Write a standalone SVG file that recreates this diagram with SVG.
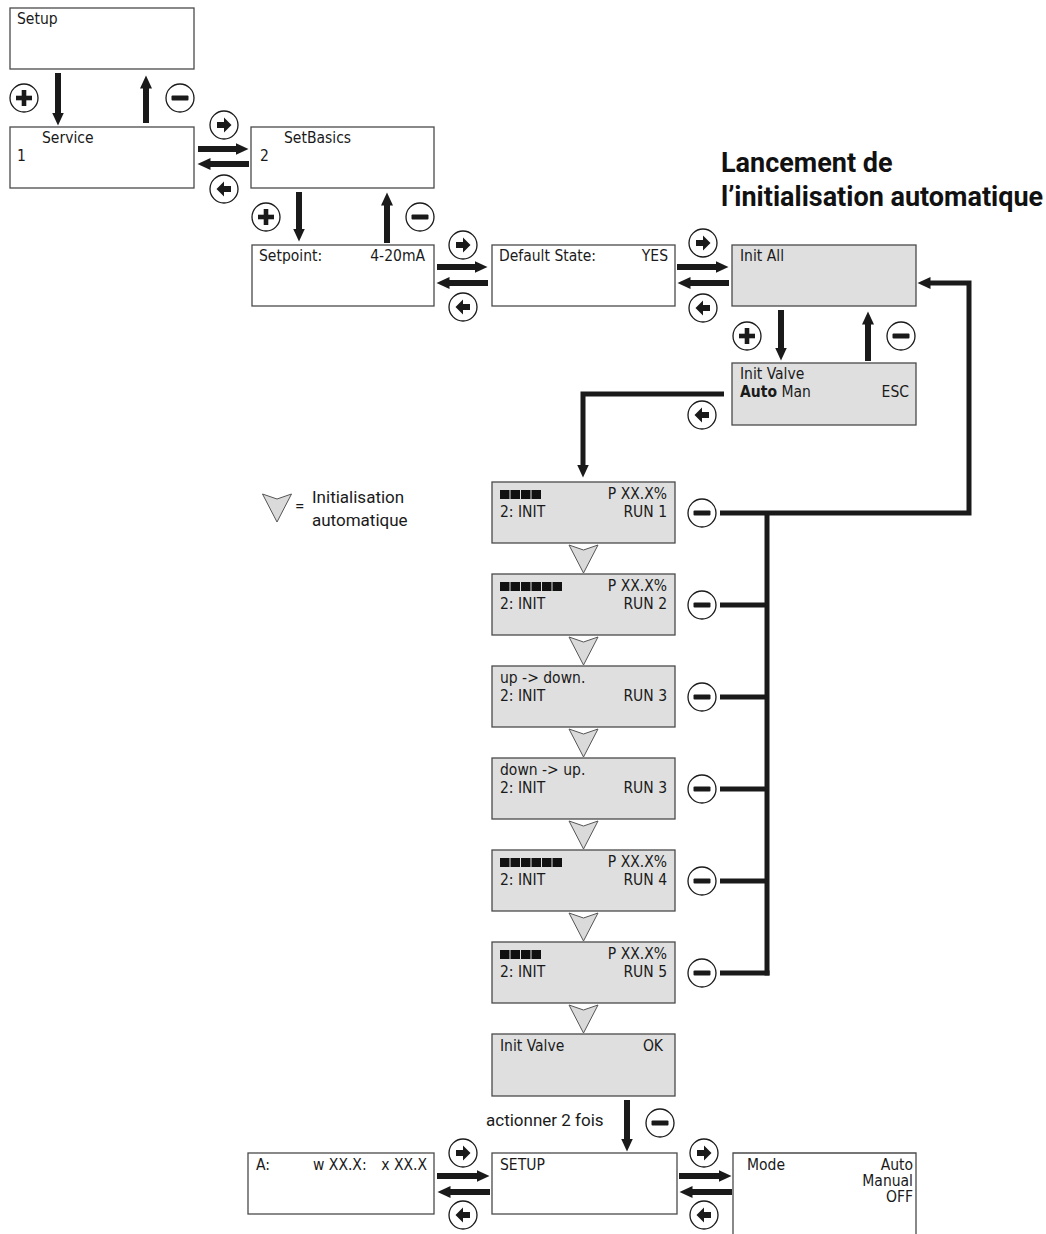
<svg xmlns="http://www.w3.org/2000/svg" xmlns:xlink="http://www.w3.org/1999/xlink" width="1046" height="1234" viewBox="0 0 1046 1234">
<style>
.box{fill:#ffffff;stroke:#4a4a4a;stroke-width:1.3}
.gbox{fill:#dfdfdf;stroke:#4a4a4a;stroke-width:1.3}
.t{font-family:"DejaVu Sans Condensed","DejaVu Sans",sans-serif;font-stretch:condensed;font-size:15.5px;fill:#1a1a1a}
.b{font-weight:bold}
.r{text-anchor:end}
.rb{font-family:Roboto,"Liberation Sans",sans-serif;font-size:17px;fill:#1a1a1a}
.title{font-family:Roboto,"Liberation Sans",sans-serif;font-weight:bold;font-size:27px;fill:#111}
.conn{fill:none;stroke:#1a1a1a;stroke-width:6}
.fb{fill:none;stroke:#1a1a1a;stroke-width:5}
.tri{fill:#dadada;stroke:#555;stroke-width:1}
.bar{fill:#111}
.ic{fill:#fff;stroke:#1a1a1a;stroke-width:1.3}
</style>
<defs>
<marker id="ah" markerUnits="userSpaceOnUse" markerWidth="14" markerHeight="14" viewBox="0 -7 14 14" refX="0.5" refY="0" orient="auto"><path d="M0,-6 L13,0 L0,6 Z" fill="#1a1a1a"/></marker>
<g id="iplus"><circle class="ic" r="14"/><rect x="-8" y="-2.3" width="16" height="4.6" fill="#1a1a1a"/><rect x="-2.3" y="-8" width="4.6" height="16" fill="#1a1a1a"/></g>
<g id="iminus"><circle class="ic" r="14"/><rect x="-8.5" y="-2.6" width="17" height="5.2" rx="1" fill="#1a1a1a"/></g>
<g id="iright"><circle class="ic" r="14"/><path d="M-7,-3 H0 V-7.5 L7.5,0 L0,7.5 V3 H-7 Z" fill="#1a1a1a"/></g>
<g id="ileft"><circle class="ic" r="14"/><path d="M7,-3 H0 V-7.5 L-7.5,0 L0,7.5 V3 H7 Z" fill="#1a1a1a"/></g>
<path id="tridown" d="M-14.5,0 L0,5 L14.5,0 L0,28 Z"/>
</defs>

<g id="title">
<text class="title" x="721" y="172">Lancement de</text>
<text class="title" x="721" y="206">l’initialisation automatique</text>
</g>

<g id="legend">
<use xlink:href="#tridown" class="tri" x="277" y="494"/>
<text class="rb" x="295" y="512">=</text>
<text class="rb" x="312" y="503">Initialisation</text>
<text class="rb" x="312" y="526">automatique</text>
</g>

<g id="node-setup"><rect class="box" x="10" y="8" width="184" height="61"/><text class="t" x="17" y="24">Setup</text></g>
<g id="node-service"><rect class="box" x="10" y="127" width="184" height="61"/><text class="t" x="42" y="143">Service</text><text class="t" x="17" y="161">1</text></g>
<g id="node-setbasics"><rect class="box" x="251" y="127" width="183" height="61"/><text class="t" x="284" y="143">SetBasics</text><text class="t" x="260" y="161">2</text></g>
<g id="node-setpoint"><rect class="box" x="252" y="245" width="182" height="61"/><text class="t" x="259" y="261">Setpoint:</text><text class="t r" x="425" y="261">4-20mA</text></g>
<g id="node-default"><rect class="box" x="492" y="245" width="183" height="61"/><text class="t" x="499" y="261">Default State:</text><text class="t r" x="668" y="261">YES</text></g>
<g id="node-initall"><rect class="gbox" x="732" y="245" width="184" height="61"/><text class="t" x="740" y="261">Init All</text></g>
<g id="node-initvalve"><rect class="gbox" x="732" y="363" width="184" height="62"/><text class="t" x="740" y="379">Init Valve</text><text class="t" x="740" y="397"><tspan class="b">Auto</tspan> Man</text><text class="t r" x="909" y="397">ESC</text></g>

<g id="node-run1"><rect class="gbox" x="492" y="482" width="183" height="61"/>
<g class="bar"><rect x="500" y="490" width="9.5" height="9"/><rect x="510.5" y="490" width="9.5" height="9"/><rect x="521" y="490" width="9.5" height="9"/><rect x="531.5" y="490" width="9.5" height="9"/></g>
<text class="t r" x="667" y="499">P XX.X%</text><text class="t" x="500" y="517">2: INIT</text><text class="t r" x="667" y="517">RUN 1</text></g>

<g id="node-run2"><rect class="gbox" x="492" y="574" width="183" height="61"/>
<g class="bar"><rect x="500" y="582" width="9.5" height="9"/><rect x="510.5" y="582" width="9.5" height="9"/><rect x="521" y="582" width="9.5" height="9"/><rect x="531.5" y="582" width="9.5" height="9"/><rect x="542" y="582" width="9.5" height="9"/><rect x="552.5" y="582" width="9.5" height="9"/></g>
<text class="t r" x="667" y="591">P XX.X%</text><text class="t" x="500" y="609">2: INIT</text><text class="t r" x="667" y="609">RUN 2</text></g>

<g id="node-run3a"><rect class="gbox" x="492" y="666" width="183" height="61"/>
<text class="t" x="500" y="683">up -&gt; down.</text><text class="t" x="500" y="701">2: INIT</text><text class="t r" x="667" y="701">RUN 3</text></g>

<g id="node-run3b"><rect class="gbox" x="492" y="758" width="183" height="61"/>
<text class="t" x="500" y="775">down -&gt; up.</text><text class="t" x="500" y="793">2: INIT</text><text class="t r" x="667" y="793">RUN 3</text></g>

<g id="node-run4"><rect class="gbox" x="492" y="850" width="183" height="61"/>
<g class="bar"><rect x="500" y="858" width="9.5" height="9"/><rect x="510.5" y="858" width="9.5" height="9"/><rect x="521" y="858" width="9.5" height="9"/><rect x="531.5" y="858" width="9.5" height="9"/><rect x="542" y="858" width="9.5" height="9"/><rect x="552.5" y="858" width="9.5" height="9"/></g>
<text class="t r" x="667" y="867">P XX.X%</text><text class="t" x="500" y="885">2: INIT</text><text class="t r" x="667" y="885">RUN 4</text></g>

<g id="node-run5"><rect class="gbox" x="492" y="942" width="183" height="61"/>
<g class="bar"><rect x="500" y="950" width="9.5" height="9"/><rect x="510.5" y="950" width="9.5" height="9"/><rect x="521" y="950" width="9.5" height="9"/><rect x="531.5" y="950" width="9.5" height="9"/></g>
<text class="t r" x="667" y="959">P XX.X%</text><text class="t" x="500" y="977">2: INIT</text><text class="t r" x="667" y="977">RUN 5</text></g>

<g id="node-initok"><rect class="gbox" x="492" y="1034" width="183" height="62"/><text class="t" x="500" y="1051">Init Valve</text><text class="t r" x="663" y="1051">OK</text></g>

<g id="node-a"><rect class="box" x="248" y="1153" width="186" height="61"/><text class="t" x="256" y="1170">A:</text><text class="t" x="313" y="1170">w XX.X:</text><text class="t r" x="427" y="1170">x XX.X</text></g>
<g id="node-setup2"><rect class="box" x="492" y="1153" width="185" height="61"/><text class="t" x="500" y="1170">SETUP</text></g>
<g id="node-mode"><path class="box" d="M733,1240 V1153 H916 V1240"/><text class="t" x="747" y="1170">Mode</text><text class="t r" x="913" y="1170">Auto</text><text class="t r" x="913" y="1186">Manual</text><text class="t r" x="913" y="1202">OFF</text></g>

<g id="auto-steps">
<use xlink:href="#tridown" class="tri" x="583.5" y="545"/>
<use xlink:href="#tridown" class="tri" x="583.5" y="637"/>
<use xlink:href="#tridown" class="tri" x="583.5" y="729"/>
<use xlink:href="#tridown" class="tri" x="583.5" y="821"/>
<use xlink:href="#tridown" class="tri" x="583.5" y="913"/>
<use xlink:href="#tridown" class="tri" x="583.5" y="1005"/>
</g>

<g id="connectors">
<path class="conn" d="M58,73 V113" marker-end="url(#ah)"/>
<path class="conn" d="M146,123 V88" marker-end="url(#ah)"/>
<path class="conn" d="M198,149 H236" marker-end="url(#ah)"/>
<path class="conn" d="M249,164 H210" marker-end="url(#ah)"/>
<path class="conn" d="M299,192 V229" marker-end="url(#ah)"/>
<path class="conn" d="M387,243 V205" marker-end="url(#ah)"/>
<path class="conn" d="M437,267 H475" marker-end="url(#ah)"/>
<path class="conn" d="M488,283 H449" marker-end="url(#ah)"/>
<path class="conn" d="M677,267 H716" marker-end="url(#ah)"/>
<path class="conn" d="M729,283 H690" marker-end="url(#ah)"/>
<path class="conn" d="M781,310 V348" marker-end="url(#ah)"/>
<path class="conn" d="M868,361 V324" marker-end="url(#ah)"/>
<path class="fb" d="M724,394 H583 V465" marker-end="url(#ah)"/>
<path class="fb" d="M720,513 H969 V283 H930" marker-end="url(#ah)"/>
<path class="fb" d="M767,513 V975.5"/>
<path class="fb" d="M720,605 H767"/>
<path class="fb" d="M720,697 H767"/>
<path class="fb" d="M720,789 H767"/>
<path class="fb" d="M720,881 H767"/>
<path class="fb" d="M720,973 H769.5"/>
<path class="conn" d="M627,1100 V1139" marker-end="url(#ah)"/>
<path class="conn" d="M437,1176 H477" marker-end="url(#ah)"/>
<path class="conn" d="M490,1192 H450" marker-end="url(#ah)"/>
<path class="conn" d="M679,1176 H719" marker-end="url(#ah)"/>
<path class="conn" d="M732,1192 H692" marker-end="url(#ah)"/>
</g>

<g id="buttons">
<use xlink:href="#iplus" x="24" y="98"/>
<use xlink:href="#iminus" x="180" y="98"/>
<use xlink:href="#iright" x="224" y="125"/>
<use xlink:href="#ileft" x="224" y="189"/>
<use xlink:href="#iplus" x="266" y="217"/>
<use xlink:href="#iminus" x="420" y="217"/>
<use xlink:href="#iright" x="463" y="245"/>
<use xlink:href="#ileft" x="463" y="307"/>
<use xlink:href="#iright" x="703" y="243"/>
<use xlink:href="#ileft" x="703" y="308"/>
<use xlink:href="#iplus" x="747" y="336"/>
<use xlink:href="#iminus" x="901" y="336"/>
<use xlink:href="#ileft" x="702" y="415"/>
<use xlink:href="#iminus" x="702" y="513"/>
<use xlink:href="#iminus" x="702" y="605"/>
<use xlink:href="#iminus" x="702" y="697"/>
<use xlink:href="#iminus" x="702" y="789"/>
<use xlink:href="#iminus" x="702" y="881"/>
<use xlink:href="#iminus" x="702" y="973"/>
<use xlink:href="#iminus" x="660" y="1123"/>
<use xlink:href="#iright" x="463" y="1153"/>
<use xlink:href="#ileft" x="463" y="1215"/>
<use xlink:href="#iright" x="704" y="1153"/>
<use xlink:href="#ileft" x="704" y="1215"/>
</g>

<text class="rb" x="486" y="1126">actionner 2 fois</text>
</svg>
